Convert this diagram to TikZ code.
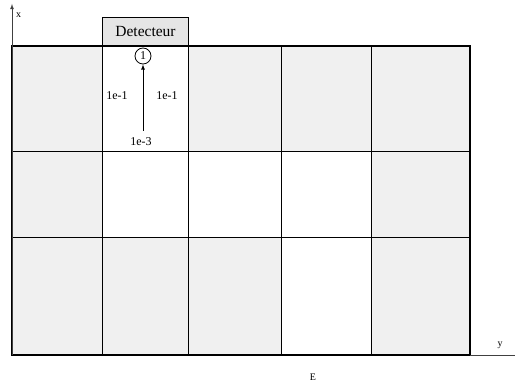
\documentclass[tikz,border=0pt]{standalone}
\usepackage{fontspec}
\setmainfont{Liberation Serif}
\begin{document}
\begin{tikzpicture}[x=1pt,y=-1pt,
  cellgray/.style={fill=gray!12},
  gridline/.style={line width=1pt,black},
  lbl/.style={font=\fontsize{12}{14}\selectfont,inner sep=1pt},
  axlbl/.style={font=\fontsize{10}{12}\selectfont,inner sep=1pt},
  axis/.style={line width=0.8pt,black!75}]
\useasboundingbox (0,0) rectangle (515,387);
% gray cells
\fill[cellgray] (12,46) rectangle (102,152);
\fill[cellgray] (188,46) rectangle (470,152);
\fill[cellgray] (12,152) rectangle (102,238);
\fill[cellgray] (371,152) rectangle (470,238);
\fill[cellgray] (12,238) rectangle (281,355);
\fill[cellgray] (371,238) rectangle (470,355);
% grid
\foreach \xx in {102,188,281,371} \draw[gridline] (\xx,46) -- (\xx,355);
\foreach \yy in {152,238} \draw[gridline] (12,\yy) -- (470,\yy);
\draw[line width=1.1pt] (12,46) rectangle (470,355);
% detector
\node[draw,line width=1pt,fill=gray!20,minimum width=86pt,minimum height=28pt,anchor=south west,inner sep=0pt,
  font=\fontsize{15.5}{18}\selectfont] (det) at (102,46) {Detecteur};
% axes
\coordinate (o) at (12,355);
\coordinate (xt) at (12,4);
\coordinate (yt) at (515,355);
\draw[axis,-latex] (o) -- (xt);
\draw[axis] (470,355) -- (yt);
\node[axlbl,anchor=west] (xl) at (15,15) {x};
\node[axlbl] (yl) at (500,345) {y};
\node[axlbl] (el) at (313,377) {E};
% circle and arrow
\node[draw,circle,inner sep=0.6pt,minimum size=16pt,line width=0.8pt,font=\fontsize{12}{14}\selectfont] (c1) at (143,56) {1};
\coordinate (src) at (143,131);
\draw[line width=0.8pt,-latex] (src) -- (c1.south);
\node[lbl] (l1) at (117,96) {1e-1};
\node[lbl] (l2) at (167,96) {1e-1};
\node[lbl] (l3) at (141,142) {1e-3};
\end{tikzpicture}
\end{document}
